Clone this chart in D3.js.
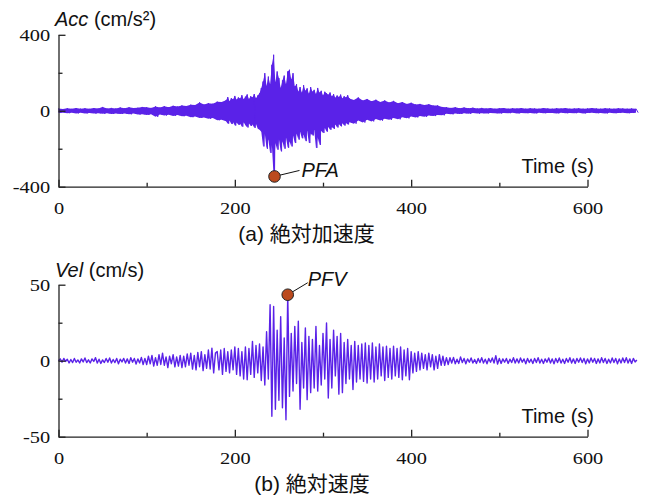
<!DOCTYPE html>
<html>
<head>
<meta charset="utf-8">
<script src="https://cdn.jsdelivr.net/npm/d3@7"></script>
<style>
  body { margin: 0; background: #fff; }
</style>
</head>
<body>
<script>
// axis ticks
const xTicks = [0, 200, 400, 600]
const xMinor = [100, 300, 500]
const accTicks = [-400, 0, 400]
const accMinor = [-200, 200]
const velTicks = [-50, 0, 50]
const velMinor = [-25, 25]

// acceleration, read off the picture as hi / lo per time bin (cm/s2)
// 0..185 s every 5 s
const accEarlyHi = [12, 9, 13, 10, 14, 11, 13, 10, 14, 12, 20, 12, 15, 12, 17, 13, 18, 14, 16, 20,
  18, 15, 23, 17, 24, 19, 26, 22, 28, 25, 32, 30, 44, 33, 40, 37, 48, 46]
const accEarlyLo = [-12, -10, -13, -11, -14, -11, -14, -12, -15, -13, -16, -13, -17, -14, -17, -15, -19, -15, -20, -18,
  -22, -19, -32, -20, -25, -21, -27, -23, -29, -26, -34, -30, -38, -35, -42, -38, -50, -48]
// 190..328 s every 2 s
const accMainHi = [55, 72, 50, 66, 60, 78, 58, 70, 64, 82, 60, 74, 86, 62, 76, 70, 88, 66, 80, 92,
  120, 154, 198, 130, 180, 140, 242, 295, 150, 207, 172, 120, 160, 185, 140, 207, 216, 165, 198, 128,
  140, 100, 125, 95, 135, 105, 118, 90, 125, 100, 110, 88, 120, 95, 105, 80, 100, 92, 84, 96,
  75, 88, 68, 80, 72, 85, 64, 76, 70, 82]
const accMainLo = [-55, -68, -52, -70, -60, -78, -62, -74, -68, -84, -60, -76, -88, -66, -80, -72, -90, -70, -95, -100,
  -110, -188, -120, -200, -150, -222, -180, -346, -170, -205, -150, -214, -160, -200, -140, -195, -160, -188, -130, -170,
  -120, -152, -110, -145, -125, -160, -105, -170, -120, -130, -100, -196, -140, -180, -105, -117, -90, -110, -85, -100,
  -85, -95, -72, -88, -70, -82, -66, -78, -64, -72]
// 330..655 s every 5 s
const accLateHi = [65, 56, 70, 54, 62, 50, 58, 46, 54, 44, 52, 40, 46, 36, 42, 33, 36, 30, 34, 27,
  28, 20, 19, 15, 18, 13, 17, 13, 16, 12, 15, 12, 14, 11, 13, 14, 11, 13, 12, 14,
  11, 13, 12, 11, 14, 12, 11, 13, 12, 14, 11, 12, 13, 11, 12, 14, 12, 11, 13, 12,
  11, 13, 12, 11, 12, 10]
const accLateLo = [-60, -68, -52, -62, -48, -56, -44, -52, -42, -48, -38, -45, -34, -40, -30, -35, -28, -32, -25, -28,
  -22, -24, -16, -19, -14, -17, -13, -16, -12, -15, -13, -14, -12, -13, -14, -12, -13, -11, -14, -12,
  -13, -12, -14, -11, -13, -12, -12, -14, -11, -13, -12, -13, -11, -14, -12, -11, -13, -12, -14, -11,
  -13, -12, -11, -13, -12, -10]

// velocity (cm/s)
// 0..188 s every 2 s
const velEarly = [0, 1.2, -1, 1.5, -0.5, 1, -1.5, 0.8, -1.2, 1.5,
  -1, 0.5, -1.5, 1.2, -0.8, 1.8, -1.2, 0.6, -1.5, 1.2,
  -0.5, 2, -1.5, 1, -1.8, 0.5, -1.2, 1.5, -1, 1.8,
  -1.5, 0.8, -1.2, 1.5, -2, 1, -0.8, 1.5, -1.5, 1.2,
  -1.8, 2, -1, 1.5, -2.2, 1.2, -1.5, 2.2, -2.5, 1.5,
  -2.5, 3, -2, 3.5, -3.5, 2, -3, 4, -2.5, 5,
  -3, 2.5, -4.5, 3, -2, 4, -4, 2.5, -3.5, 3.5,
  -4.5, 3, -4, 4.5, -3, 5, -5.5, 3.5, -6, 5.5,
  -4, 6, -6.5, 4, -5, 7, -5.5, 8.3, -8, 5,
  6, -6, 7, -9, 8]
// 190..440 s every 2 s
const velMain = [-7, 6, -8, 7, -6, 9, -9, 8, -10, 6, -12, 9, -12.5, 8, -9, 12.7, -11, 10, -8, 11,
  -13, 9, -16, 19, -12, 36.8, -36.6, 35.7, -32, 20, -26, 29, -31, 15, -38.8, 43.4, -23.5, 18, -20, 22.6,
  -15, 26, -32, 12, -18, 21.5, -25.6, 16, -21, 14, -18, 22.6, -20, 10, -16, 18, -12, 24.8, -24.5, 14,
  -18, 20, -10, 16, -22, 18, -21, 12, -15, 14, -12, 10, -19, 12.7, -14, 10, -12, 11, -13.6, 11.6,
  -14.7, 10, -12, 11.6, -14, 9, -12, 11, -10, 9, -13, 9.5, -11, 8, -12, 9.5, -10, 8, -11, 9,
  -12.5, 7, -10, 8, -12.5, 6, -8, 5, -7, 6, -6, 5, -5, 4, -6, 5, -4, 4, -6, 3,
  -5, 4, -3, 3, -3, 2]
// 442..656 s every 2 s
const velLate = [-2.5, 2, -1.5, 2.2, -2, 1, -1.8, 2.5, -1.2, 1.5,
  -2, 1.2, -1, 1.8, -1.5, 0.8, -1.8, 1.5, -1.2, 2,
  -1.5, 1, -2, 1.5, -1, 1.8, -1.5, 3.3, -2.2, 1.5,
  -1.8, 1.2, -1, 1.5, -1.8, 1, -1.2, 2, -1.5, 1.2,
  -1.5, 1.8, -1, 1.2, -2, 1.5, -1.2, 1, -1.8, 1.5,
  -1.2, 2, -1.5, 1, -1.8, 1.2, -1, 1.8, -1.5, 1.2,
  -2, 1.5, -1.2, 1.8, -1.5, 1, -1.8, 1.5, -1, 2,
  -1.5, 1.2, -1.8, 1.5, -1, 1.8, -1.2, 1.5, -2, 1.2,
  -1.5, 1.8, -1, 1.5, -1.8, 1.2, -1.5, 2, -1.2, 1.5,
  -1.8, 1, -1.5, 1.8, -1.2, 1.5, -2, 1.2, -1.5, 1.8,
  -1.2, 2, -1.5, 1.2, -1.8, 1.5, -0.8, 0.5]

// peaks [time, value]
const pfa = [245, -346]
const pfv = [260, 43.4]

const traceColor = '#5a22e8'
const axisColor = '#222'
const serif = "'Liberation Serif', 'Times New Roman', serif"
const sans = "'Liberation Sans', Arial, sans-serif"
const cjk = "'Liberation Sans', 'Noto Sans CJK JP', sans-serif"

function accChunk (start, step, hi, lo) {
  return hi.map((h, i) => ({ t: start + i * step, hi: h, lo: lo[i], step }))
}

function velChunk (start, step, vals) {
  return vals.map((v, i) => ({ t: start + i * step, v }))
}

const accSamples = [
  ...accChunk(0, 5, accEarlyHi, accEarlyLo),
  ...accChunk(190, 2, accMainHi, accMainLo),
  ...accChunk(330, 5, accLateHi, accLateLo)
]
const accPoints = accSamples.flatMap(d => [[d.t, d.hi], [d.t + d.step / 2, d.lo]])

const velPoints = [
  ...velChunk(0, 2, velEarly),
  ...velChunk(190, 2, velMain),
  ...velChunk(442, 2, velLate)
].map(d => [d.t, d.v])

const svg = d3.select('body')
  .append('svg')
  .attr('width', 645)
  .attr('height', 498)

const x = d3.scaleLinear().domain([0, 600]).range([58.5, 587.5])

function drawPanel ({ y, ticks, minor, points, band, width, label, labelY, caption, captionX, captionY, peak, peakName, labelOffset }) {
  const [yBottom] = y.range()
  const g = svg.append('g')

  // filled envelope for the dense record
  if (band) {
    g.append('path')
      .datum(band)
      .attr('fill', traceColor)
      .attr('d', d3.area().x(d => x(d.t)).y0(d => y(d.lo)).y1(d => y(d.hi)))
  }

  // trace
  g.append('path')
    .datum(points)
    .attr('fill', 'none')
    .attr('stroke', traceColor)
    .attr('stroke-width', width)
    .attr('stroke-linejoin', 'round')
    .attr('d', d3.line().x(d => x(d[0])).y(d => y(d[1])))

  // y axis
  const yAxis = g.append('g')
    .attr('transform', `translate(${x(0)},0)`)
    .call(d3.axisLeft(y).tickValues(ticks).tickSize(-7).tickSizeOuter(0).tickPadding(7).tickFormat(d => String(d)))
  yAxis.append('g')
    .call(d3.axisLeft(y).tickValues(minor).tickSize(-4).tickSizeOuter(0).tickFormat(''))
    .select('.domain').remove()

  // x axis
  const xAxis = g.append('g')
    .attr('transform', `translate(0,${yBottom})`)
    .call(d3.axisBottom(x).tickValues(xTicks).tickSize(-7).tickSizeOuter(0).tickPadding(15).tickFormat(d => String(d)))
  xAxis.append('g')
    .call(d3.axisBottom(x).tickValues(xMinor).tickSize(-4).tickSizeOuter(0).tickFormat(''))
    .select('.domain').remove()

  g.selectAll('.domain, .tick line')
    .attr('stroke', axisColor)
    .attr('stroke-width', 1.3)
  g.selectAll('.tick text')
    .attr('fill', '#111')
    .style('font-family', serif)
    .style('font-size', '17px')
    .attr('transform', 'scale(1.2,1)')

  // unit label
  const t = g.append('text')
    .attr('x', 55)
    .attr('y', labelY)
    .style('font-family', sans)
    .style('font-size', '20px')
    .attr('fill', '#111')
  t.append('tspan').style('font-style', 'italic').text(label[0])
  t.append('tspan').text(label[1])

  g.append('text')
    .attr('x', 594)
    .attr('y', yBottom - 13.5)
    .attr('text-anchor', 'end')
    .style('font-family', sans)
    .style('font-size', '20px')
    .attr('fill', '#111')
    .text('Time (s)')

  g.append('text')
    .attr('x', captionX)
    .attr('y', captionY)
    .attr('text-anchor', 'middle')
    .style('font-family', cjk)
    .style('font-size', '21px')
    .attr('fill', '#111')
    .text(caption)

  // peak marker
  const cx = x(peak[0])
  const cy = y(peak[1])
  const [dx, dy, tx, ty] = labelOffset
  g.append('line')
    .attr('x1', cx)
    .attr('y1', cy)
    .attr('x2', cx + dx)
    .attr('y2', cy + dy)
    .attr('stroke', '#111')
    .attr('stroke-width', 1)
  g.append('circle')
    .attr('cx', cx)
    .attr('cy', cy)
    .attr('r', 5.8)
    .attr('fill', '#bb4a1e')
    .attr('stroke', '#222')
    .attr('stroke-width', 1)
  g.append('text')
    .attr('x', cx + tx)
    .attr('y', cy + ty)
    .style('font-family', sans)
    .style('font-style', 'italic')
    .style('font-size', '20px')
    .attr('fill', '#111')
    .text(peakName)
}

drawPanel({
  y: d3.scaleLinear().domain([-400, 400]).range([186.7, 34.8]),
  ticks: accTicks,
  minor: accMinor,
  points: accPoints,
  band: accSamples,
  width: 1,
  label: ['Acc', ' (cm/s²)'],
  labelY: 26,
  caption: '(a) 絶対加速度',
  captionX: 306.5,
  captionY: 241,
  peak: pfa,
  peakName: 'PFA',
  labelOffset: [25, -6, 27, 0.5]
})

drawPanel({
  y: d3.scaleLinear().domain([-50, 50]).range([436.7, 284.7]),
  ticks: velTicks,
  minor: velMinor,
  points: velPoints,
  band: null,
  width: 1.4,
  label: ['Vel', ' (cm/s)'],
  labelY: 277,
  caption: '(b) 絶対速度',
  captionX: 312,
  captionY: 491,
  peak: pfv,
  peakName: 'PFV',
  labelOffset: [20, -12, 20, -8.5]
})
</script>
</body>
</html>
